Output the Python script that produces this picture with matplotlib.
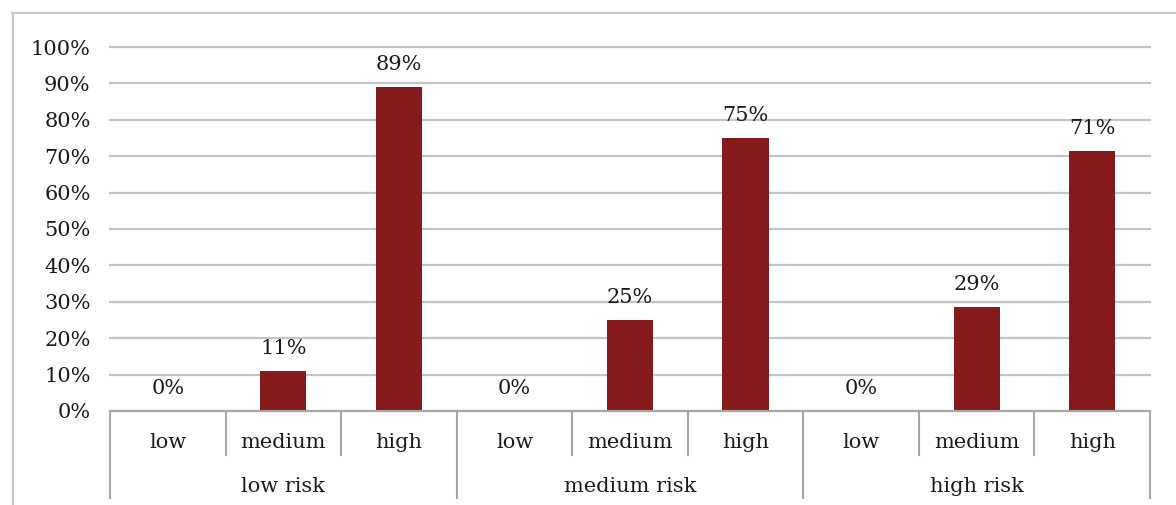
import matplotlib
matplotlib.use("Agg")
import matplotlib.pyplot as plt
from matplotlib.lines import Line2D

groups = ["low risk", "medium risk", "high risk"]
levels = ["low", "medium", "high"]
values = [0.0, 11.1, 88.9, 0.0, 25.0, 75.0, 0.0, 28.6, 71.4]
value_labels = ["0%", "11%", "89%", "0%", "25%", "75%", "0%", "29%", "71%"]
yticks = [0, 10, 20, 30, 40, 50, 60, 70, 80, 90, 100]

W, H = 1176, 505
fig = plt.figure(figsize=(W / 100, H / 100), dpi=100)
plt.rcParams['font.family'] = ['DejaVu Serif']
FS = 15

left, right, top, base = 110, 1150, 47, 411
ax = fig.add_axes([left / W, (H - base) / H, (right - left) / W, (base - top) / H])
axh = base - top

n = len(values)
xs = list(range(n))
bar_color = "#841a1a"
ax.bar(xs, values, width=0.4, color=bar_color, zorder=3)
ax.set_xlim(-0.5, n - 0.5)
ax.set_ylim(0, 100)
ax.set_yticks(yticks)
ax.set_yticklabels([f"{t}%" for t in yticks], fontsize=FS, color="#1a1a1a")
ax.tick_params(axis="y", length=0, pad=14)
ax.set_xticks([])
for s in ["left", "right", "top"]:
    ax.spines[s].set_visible(False)
ax.spines["bottom"].set_color("#a6a6a6")
ax.spines["bottom"].set_linewidth(1.5)
ax.spines["bottom"].set_zorder(4)
ax.yaxis.grid(True, color="#c4c4c4", linewidth=1.6)
for gl in ax.get_ygridlines():
    gl.set_clip_on(False)
ax.set_axisbelow(True)

for x, v, lab in zip(xs, values, value_labels):
    ax.annotate(lab, (x, v), xytext=(0, 13), textcoords="offset pixels",
                ha="center", va="bottom", fontsize=FS, color="#1a1a1a")

# category labels and separators
cat_y = (base - 442) / axh
grp_y = (base - 486) / axh
inner_y = (base - 455) / axh
outer_y = (base - 498) / axh
tr = ax.get_xaxis_transform()
for i, x in enumerate(xs):
    ax.text(x, cat_y, levels[i % 3], transform=tr, ha="center", va="center",
            fontsize=FS, color="#1a1a1a")
for g, name in enumerate(groups):
    ax.text(3 * g + 1, grp_y, name, transform=tr, ha="center", va="center",
            fontsize=FS, color="#1a1a1a")
for k in range(n + 1):
    xb = k - 0.5
    y1 = outer_y if k % 3 == 0 else inner_y
    ax.add_line(Line2D([xb, xb], [0, y1], transform=tr, color="#a6a6a6",
                       linewidth=1.5, clip_on=False))

# outer chart border (partially cropped)
bc = "#c8c8c8"
fig.add_artist(Line2D([12.5 / W, 12.5 / W], [(H - 13) / H, 0], color=bc, linewidth=1.6))
fig.add_artist(Line2D([12 / W, 1], [(H - 13) / H, (H - 13) / H], color=bc, linewidth=1.6))

fig.savefig("out.png", dpi=100)
